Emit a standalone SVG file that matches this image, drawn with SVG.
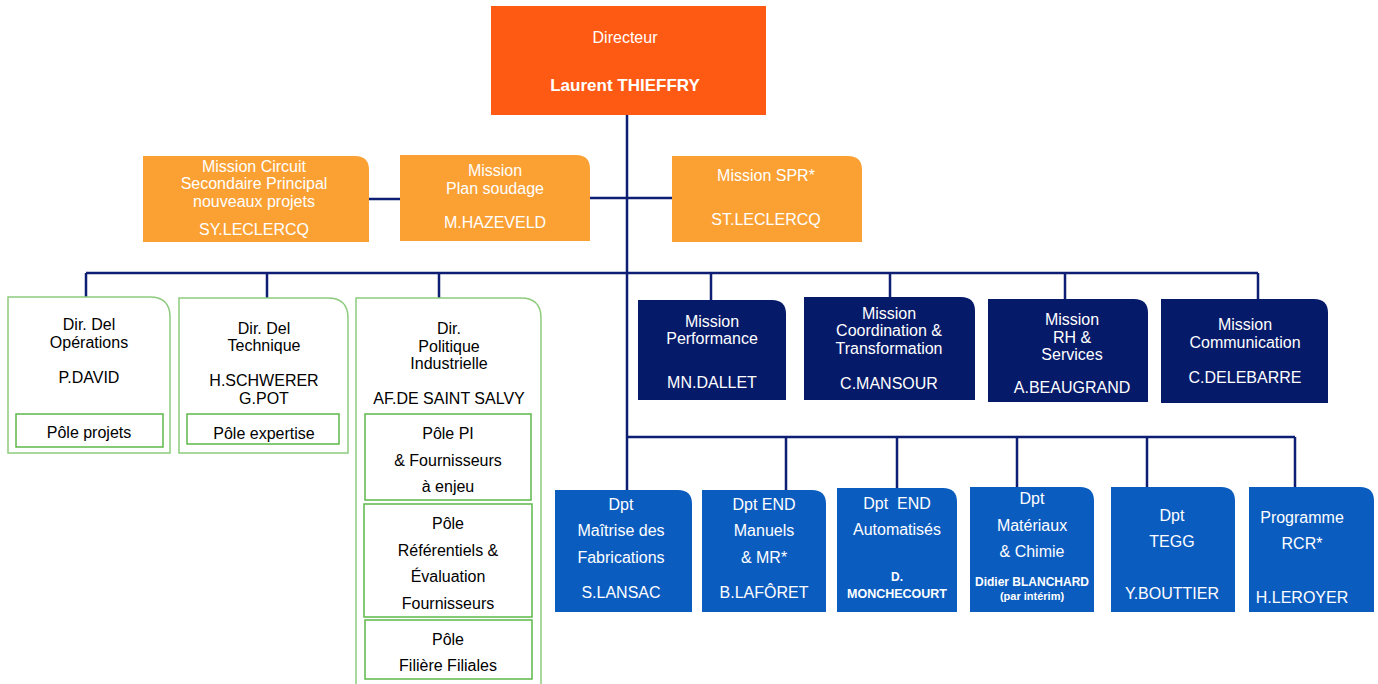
<svg xmlns="http://www.w3.org/2000/svg" width="1378" height="684" viewBox="0 0 1378 684">
<style>
text{font-family:"Liberation Sans",Arial,sans-serif;font-size:16px;text-anchor:middle;dominant-baseline:central}
.w{fill:#ffffff}
.k{fill:#000000}
.dir{fill:#FF5A14}
.org{fill:#FBA134}
.nav{fill:#061A6A}
.blu{fill:#0B5CBF}
.grn{fill:#ffffff;stroke:#8CCB7C;stroke-width:1.5}
.inner{fill:none;stroke:#5DB84A;stroke-width:1.5}
.ln{stroke:#0E1F73;stroke-width:2.5;fill:none}
.sb{font-size:12px;font-weight:bold}
</style>
<rect width="1378" height="684" fill="#ffffff"/>
<g id="connectors">
<path class="ln" d="M627,114 V437"/>
<path class="ln" d="M368,199 H400 M589,198 H672"/>
<path class="ln" d="M86,273 H1258 M86,273 V298 M267,273 V298 M439,273 V298 M711,273 V300 M890,273 V297 M1065,273 V299 M1258,273 V299"/>
<path class="ln" d="M627,437 H1295 M627,437 V490 M786,437 V490 M897,437 V488 M1017,437 V487 M1147,437 V487 M1295,437 V487"/>
</g>
<g id="directeur">
<rect class="dir" x="491" y="6" width="275" height="109"/>
<text class="w" x="625" y="37">Directeur</text>
<text class="w" x="625" y="85" style="font-weight:bold;font-size:17px">Laurent THIEFFRY</text>
</g>
<g id="mission-csp">
<path class="org" d="M143,156 H355 Q369,156 369,170 V242 H143 Z"/>
<text class="w" x="254" y="166">Mission Circuit</text>
<text class="w" x="254" y="183">Secondaire Principal</text>
<text class="w" x="254" y="201">nouveaux projets</text>
<text class="w" x="254" y="229">SY.LECLERCQ</text>
</g>
<g id="mission-plan-soudage">
<path class="org" d="M400,155 H576 Q590,155 590,169 V241 H400 Z"/>
<text class="w" x="495" y="170">Mission</text>
<text class="w" x="495" y="188">Plan soudage</text>
<text class="w" x="495" y="222">M.HAZEVELD</text>
</g>
<g id="mission-spr">
<path class="org" d="M672,156 H848 Q862,156 862,170 V242 H672 Z"/>
<text class="w" x="766" y="175">Mission SPR*</text>
<text class="w" x="766" y="219">ST.LECLERCQ</text>
</g>
<g id="dir-operations">
<path class="grn" d="M8,297 H150 Q170,297 170,317 V453 H8 Z"/>
<text class="k" x="89" y="324">Dir. Del</text>
<text class="k" x="89" y="342">Opérations</text>
<text class="k" x="89" y="377">P.DAVID</text>
<rect class="inner" x="16" y="414" width="147" height="33"/>
<text class="k" x="89" y="432">Pôle projets</text>
</g>
<g id="dir-technique">
<path class="grn" d="M179,298 H328 Q348,298 348,318 V453 H179 Z"/>
<text class="k" x="264" y="328">Dir. Del</text>
<text class="k" x="264" y="345">Technique</text>
<text class="k" x="264" y="380">H.SCHWERER</text>
<text class="k" x="264" y="398">G.POT</text>
<rect class="inner" x="187" y="414" width="152" height="30"/>
<text class="k" x="264" y="433">Pôle expertise</text>
</g>
<g id="dir-politique-industrielle">
<path class="grn" d="M356,690 V298 H521 Q541,298 541,318 V690"/>
<text class="k" x="449" y="328">Dir.</text>
<text class="k" x="449" y="346">Politique</text>
<text class="k" x="449" y="363">Industrielle</text>
<text class="k" x="449" y="398">AF.DE SAINT SALVY</text>
<rect class="inner" x="365" y="414" width="166" height="86"/>
<text class="k" x="448" y="433">Pôle PI</text>
<text class="k" x="448" y="460">&amp; Fournisseurs</text>
<text class="k" x="448" y="486">à enjeu</text>
<rect class="inner" x="364" y="504" width="168" height="113"/>
<text class="k" x="448" y="523">Pôle</text>
<text class="k" x="448" y="550">Référentiels &amp;</text>
<text class="k" x="448" y="576">Évaluation</text>
<text class="k" x="448" y="603">Fournisseurs</text>
<rect class="inner" x="365" y="620" width="167" height="59"/>
<text class="k" x="448" y="639">Pôle</text>
<text class="k" x="448" y="665">Filière Filiales</text>
</g>
<g id="mission-performance">
<path class="nav" d="M638,300 H772 Q786,300 786,314 V400 H638 Z"/>
<text class="w" x="712" y="321">Mission</text>
<text class="w" x="712" y="338">Performance</text>
<text class="w" x="712" y="382">MN.DALLET</text>
</g>
<g id="mission-coordination">
<path class="nav" d="M804,297 H961 Q975,297 975,311 V400 H804 Z"/>
<text class="w" x="889" y="313">Mission</text>
<text class="w" x="889" y="330">Coordination &amp;</text>
<text class="w" x="889" y="348">Transformation</text>
<text class="w" x="889" y="383">C.MANSOUR</text>
</g>
<g id="mission-rh">
<path class="nav" d="M988,299 H1134 Q1148,299 1148,313 V402 H988 Z"/>
<text class="w" x="1072" y="319">Mission</text>
<text class="w" x="1072" y="337">RH &amp;</text>
<text class="w" x="1072" y="354">Services</text>
<text class="w" x="1072" y="387">A.BEAUGRAND</text>
</g>
<g id="mission-communication">
<path class="nav" d="M1161,299 H1314 Q1328,299 1328,313 V403 H1161 Z"/>
<text class="w" x="1245" y="324">Mission</text>
<text class="w" x="1245" y="342">Communication</text>
<text class="w" x="1245" y="377">C.DELEBARRE</text>
</g>
<g id="dpt-maitrise">
<path class="blu" d="M555,490 H678 Q692,490 692,504 V612 H555 Z"/>
<text class="w" x="621" y="504">Dpt</text>
<text class="w" x="621" y="530">Maîtrise des</text>
<text class="w" x="621" y="557">Fabrications</text>
<text class="w" x="621" y="592">S.LANSAC</text>
</g>
<g id="dpt-end-manuels">
<path class="blu" d="M702,490 H812 Q826,490 826,504 V612 H702 Z"/>
<text class="w" x="764" y="504">Dpt END</text>
<text class="w" x="764" y="530">Manuels</text>
<text class="w" x="764" y="557">&amp; MR*</text>
<text class="w" x="764" y="592">B.LAFÔRET</text>
</g>
<g id="dpt-end-automatises">
<path class="blu" d="M837,488 H943 Q957,488 957,502 V612 H837 Z"/>
<text class="w" x="897" y="503" xml:space="preserve">Dpt  END</text>
<text class="w" x="897" y="529">Automatisés</text>
<text class="w sb" x="897" y="577">D.</text>
<text class="w sb" x="897" y="594" style="font-size:12.5px">MONCHECOURT</text>
</g>
<g id="dpt-materiaux">
<path class="blu" d="M970,487 H1080 Q1094,487 1094,501 V612 H970 Z"/>
<text class="w" x="1032" y="498">Dpt</text>
<text class="w" x="1032" y="525">Matériaux</text>
<text class="w" x="1032" y="551">&amp; Chimie</text>
<text class="w sb" x="1032" y="582">Didier BLANCHARD</text>
<text class="w sb" x="1032" y="596" style="font-size:11px">(par intérim)</text>
</g>
<g id="dpt-tegg">
<path class="blu" d="M1111,487 H1221 Q1235,487 1235,501 V612 H1111 Z"/>
<text class="w" x="1172" y="515">Dpt</text>
<text class="w" x="1172" y="541">TEGG</text>
<text class="w" x="1172" y="593">Y.BOUTTIER</text>
</g>
<g id="programme-rcr">
<path class="blu" d="M1249,487 H1360 Q1374,487 1374,501 V612 H1249 Z"/>
<text class="w" x="1302" y="517">Programme</text>
<text class="w" x="1302" y="543">RCR*</text>
<text class="w" x="1302" y="597">H.LEROYER</text>
</g>
</svg>
